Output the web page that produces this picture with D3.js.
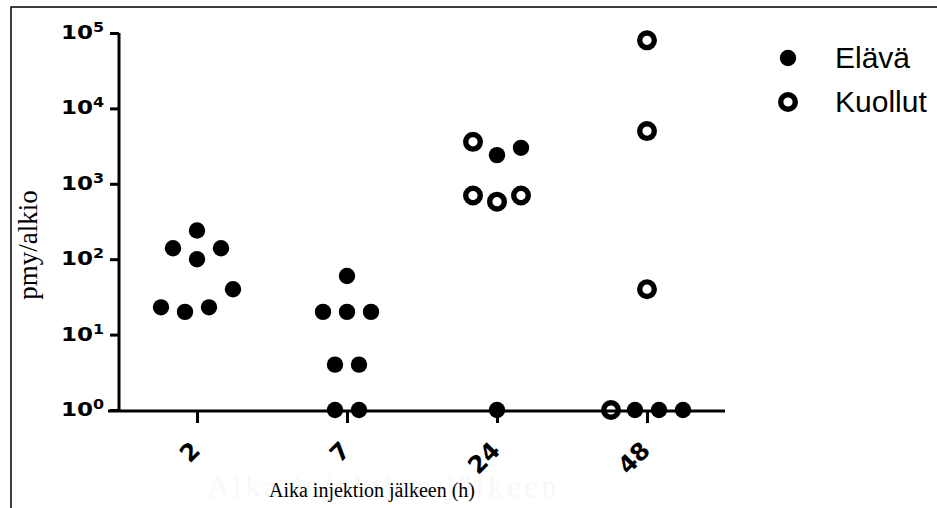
<!DOCTYPE html>
<html>
<head>
<meta charset="utf-8">
<script src="https://cdn.jsdelivr.net/npm/d3@7"></script>
<style>
  body { margin: 0; background: #fff; }
</style>
</head>
<body>
<script>
// time points (h)
var hours = ["2", "7", "24", "48"];

// values per column, grouped in rows as the dot plot lays them out (left to right)
var rows2 = [[240], [140, 100, 140], [23, 20, 23, 40]];
var rows7 = [[60], [20, 20, 20], [4, 4], [1, 1]];
var rows24 = [[3600, 2400, 3000], [700, 580, 700], [1]];
var rows48 = [[80000], [5000], [40], [1, 1, 1, 1]];

// 1 = Kuollut (dead, open ring), 0 = Elävä (alive, filled)
var dead2 = [[0], [0, 0, 0], [0, 0, 0, 0]];
var dead7 = [[0], [0, 0, 0], [0, 0], [0, 0]];
var dead24 = [[1, 0, 0], [1, 1, 1], [0]];
var dead48 = [[1], [1], [1], [1, 0, 0, 0]];

var yTicks = [1, 10, 100, 1000, 10000, 100000];
var legendLabels = ["Elävä", "Kuollut"];

var w = 937;
var h = 508;
var plotLeft = 119, plotRight = 725, plotTop = 33, plotBottom = 410;

var svg = d3.select("body").append("svg").attr("width", w).attr("height", h);

//frame lines at top and left
svg.append("path")
  .attr("d", "M11," + h + "V7H" + w)
  .attr("fill", "none")
  .attr("stroke", "black")
  .attr("stroke-width", 1.5);

var x = d3.scalePoint().domain(hours).range([plotLeft, plotRight]).padding(0.52);
var y = d3.scaleLog().domain([1, 100000]).range([plotBottom, plotTop]);

// y axis
var yAxis = svg.append("g")
  .attr("transform", "translate(" + plotLeft + ",0)")
  .call(d3.axisLeft(y).tickValues(yTicks).tickSize(9).tickFormat(""));
yAxis.select(".domain").attr("stroke-width", 3).attr("d", "M0," + plotTop + "V" + (plotBottom + 1.5));
yAxis.selectAll(".tick line").attr("stroke-width", 3);

yAxis.selectAll(".tick").each(function (d) {
  var lab = d3.select(this).append("g").attr("transform", "translate(-15,0)")
    .append("text")
    .attr("transform", "scale(1.18,1)")
    .attr("text-anchor", "end")
    .attr("font-family", "DejaVu Sans")
    .attr("font-weight", "bold")
    .attr("fill", "black")
    .attr("y", 5.5);
  lab.append("tspan").attr("font-size", 19.5).text("10");
  lab.append("tspan").attr("font-size", 13.5).attr("dy", -7).text(Math.round(Math.log10(d)));
});

// x axis
var xAxis = svg.append("g")
  .attr("transform", "translate(0," + (plotBottom + 1) + ")")
  .call(d3.axisBottom(x).tickSize(12).tickFormat(""));
xAxis.select(".domain").attr("stroke-width", 3).attr("d", "M" + (plotLeft - 11) + ",0H" + plotRight);
xAxis.selectAll(".tick line").attr("stroke-width", 3);

xAxis.selectAll(".tick").append("text")
  .attr("text-anchor", "end")
  .attr("transform", "translate(4,41) rotate(-45)")
  .attr("font-family", "DejaVu Sans")
  .attr("font-weight", "bold")
  .attr("font-size", 24)
  .attr("fill", "black")
  .text(function (d) { return d; });

// axis titles (faint ghost text behind the real title)
svg.append("text")
  .attr("x", 382).attr("y", 497)
  .attr("text-anchor", "middle")
  .attr("font-family", "Liberation Serif")
  .attr("font-size", 31)
  .attr("fill", "#f8f8f8")
  .attr("textLength", 350)
  .text("Aika injektion jälkeen");

svg.append("text")
  .attr("x", 372).attr("y", 497)
  .attr("text-anchor", "middle")
  .attr("font-family", "Liberation Serif")
  .attr("font-size", 20)
  .attr("fill", "black")
  .text("Aika injektion jälkeen (h)");

svg.append("text")
  .attr("transform", "translate(37,245) rotate(-90)")
  .attr("text-anchor", "middle")
  .attr("font-family", "Liberation Serif")
  .attr("font-size", 27)
  .attr("fill", "black")
  .text("pmy/alkio");

// build point list: rows are spread out horizontally around the column centre
var gap = 24;
var points = [];
[rows2, rows7, rows24, rows48].forEach(function (rows, c) {
  var deads = [dead2, dead7, dead24, dead48][c];
  rows.forEach(function (row, r) {
    row.forEach(function (v, i) {
      points.push({
        hour: hours[c],
        value: v,
        dead: deads[r][i],
        offset: (i - (row.length - 1) / 2) * gap
      });
    });
  });
});

svg.append("g").selectAll("circle")
  .data(points)
  .enter()
  .append("circle")
  .attr("cx", function (d) { return x(d.hour) + d.offset; })
  .attr("cy", function (d) { return y(d.value); })
  .attr("r", function (d) { return d.dead ? 7.3 : 8.2; })
  .attr("fill", function (d) { return d.dead ? "none" : "black"; })
  .attr("stroke", function (d) { return d.dead ? "black" : "none"; })
  .attr("stroke-width", 5.4);

// legend
var legend = svg.append("g").selectAll("g")
  .data(legendLabels)
  .enter()
  .append("g")
  .attr("transform", function (d, i) { return "translate(788," + (58 + i * 44) + ")"; });

legend.append("circle")
  .attr("r", function (d, i) { return i ? 7.3 : 8.2; })
  .attr("fill", function (d, i) { return i ? "none" : "black"; })
  .attr("stroke", function (d, i) { return i ? "black" : "none"; })
  .attr("stroke-width", 5.4);

legend.append("text")
  .attr("x", 47).attr("y", 10)
  .attr("font-family", "Liberation Sans")
  .attr("font-size", 30)
  .attr("fill", "black")
  .text(function (d) { return d; });
</script>
</body>
</html>
